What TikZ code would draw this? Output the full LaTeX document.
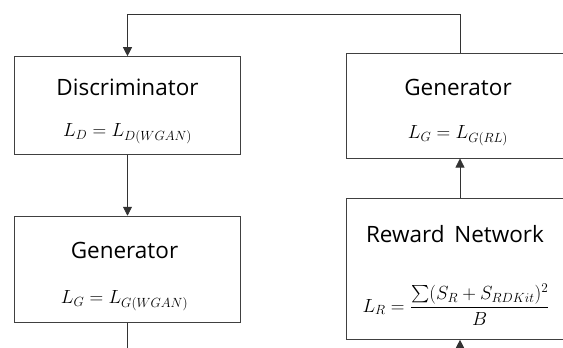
\documentclass[tikz,border=0pt]{standalone}
\usepackage{fix-cm}
\usepackage{amsmath}
\usepackage[no-math]{fontspec}
\setmainfont{Open Sans}
\usetikzlibrary{arrows.meta,calc}
\begin{document}
\begin{tikzpicture}[x=1pt,y=-1pt,
  line/.style={draw=black!80,line width=0.8pt},
  arr/.style={line,-{Triangle[width=9pt,length=9pt]}},
  box/.style={draw=black!75,line width=0.9pt,rectangle,inner sep=0pt},
  title/.style={font=\fontsize{22.5}{26}\selectfont,inner sep=0pt,anchor=center},
  formula/.style={font=\fontsize{19}{22}\selectfont,inner sep=0pt,anchor=center}]
\useasboundingbox (0,0) rectangle (563,348);
\clip (0,0) rectangle (563,348);
% boxes
\node[box,minimum width=226.2pt,minimum height=97.7pt] (d) at (127.5,105.5) {};
\node[box,minimum width=226.2pt,minimum height=106.2pt] (gl) at (127.5,269.3) {};
\node[box,minimum width=227pt,minimum height=104.9pt] (gr) at (460,105.6) {};
\node[box,minimum width=227pt,minimum height=140.7pt] (rn) at (460,269) {};
% texts
\node[title] (dt) at (127.5,87) {Discriminator};
\node[formula] (df) at (127.5,133.5) {$L_D = L_{D(WGAN)}$};
\node[title] (glt) at (124.5,250) {Generator};
\node[formula] (glf) at (124.5,300.5) {$L_G = L_{G(WGAN)}$};
\node[title] (grt) at (458,87) {Generator};
\node[formula] (grf) at (458,135.5) {$L_G = L_{G(RL)}$};
\node[title] (rnt) at (455,234) {Reward\, Network};
\node[formula] (rnf) at (456,304.5) {$\displaystyle L_R = \frac{\sum(S_R + S_{RDKit})^2}{B}$};
% connectors
\coordinate (top) at (0,14.4);
\coordinate (bot) at (0,352);
\draw[arr] (gr.north) -- (gr.north |- top) -| (d.north);
\draw[arr] (d.south) -- (gl.north);
\draw[line] (gl.south) -- (gl.south |- bot);
\draw[arr] (rn.north) -- (gr.south);
\draw[arr] (rn.south |- bot) -- (rn.south);
\end{tikzpicture}
\end{document}
